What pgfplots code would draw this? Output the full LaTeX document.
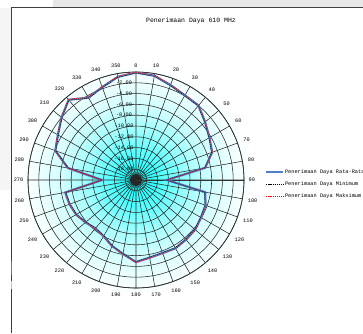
\documentclass[border=0pt]{standalone}
\usepackage{fontspec}
\setmainfont{Liberation Mono}
\usepackage{pgfplots}
\pgfplotsset{compat=1.18}
\usepackage{pgfplotstable}
\usepgfplotslibrary{polar}
\usetikzlibrary{backgrounds}

\definecolor{avgblue}{HTML}{4F7FC4}
\pgfdeclareradialshading{fade}{\pgfpoint{0bp}{0bp}}{%
  color(0bp)=(cyan);
  color(3.1bp)=(cyan!80!white);
  color(6.25bp)=(cyan!62!white);
  color(10.4bp)=(cyan!38!white);
  color(15.6bp)=(cyan!18!white);
  color(20.8bp)=(cyan!6!white);
  color(24bp)=(white);
  color(50bp)=(white)}

% received power at 610 MHz (dB relative to peak), bearing in degrees clockwise from north
\pgfplotstableread{
ang   avg    lo     hi
0     -0.1   -0.2   -0.0
10    -0.4   -0.5   -0.3
20    -1.3   -1.4   -1.2
30    -1.9   -2.0   -1.8
40    -2.0   -2.1   -1.9
50    -3.3   -3.4   -3.2
60    -4.3   -4.4   -4.2
70    -5.0   -5.1   -4.9
80    -7.0   -7.1   -6.9
90    -14.3  -14.4  -14.2
100   -7.0   -7.1   -6.9
110   -6.3   -6.4   -6.2
120   -6.1   -6.2   -6.0
130   -5.7   -5.8   -5.6
140   -5.6   -5.7   -5.5
150   -5.4   -5.5   -5.3
160   -5.6   -5.7   -5.5
170   -5.4   -5.5   -5.3
180   -4.8   -4.9   -4.7
190   -6.1   -6.2   -6.0
200   -7.0   -7.1   -6.9
210   -8.0   -8.1   -7.9
220   -8.3   -8.4   -8.2
230   -7.8   -7.9   -7.7
240   -7.2   -7.3   -7.1
250   -6.9   -7.0   -6.8
260   -6.7   -6.8   -6.6
270   -13.7  -13.8  -13.6
280   -7.2   -7.3   -7.1
290   -4.1   -4.2   -4.0
300   -3.3   -3.4   -3.2
310   -2.0   -2.1   -1.9
320   -0.6   -0.7   -0.5
330   -2.4   -2.5   -2.3
340   -1.7   -1.8   -1.6
350   -0.6   -0.7   -0.5
360   -0.1   -0.2   -0.0
}\rxdata

\newcommand\lbl{\fontsize{5.3}{6}\selectfont}

\begin{document}
\begin{tikzpicture}[x=1pt,y=1pt]
\useasboundingbox (0,0) rectangle (363,333);
% sheet chrome around the chart area
\fill[black!9] (53,325) rectangle (363,333);
\fill[black!4] (0,143) rectangle (11,325);
\draw[black!75, line width=0.8pt] (11.5,0) -- (11.5,325.5) -- (363,325.5);
\fill[avgblue] (10.6,58) rectangle (11.4,72);
\fill[yellow!80!green] (10.6,44) rectangle (11.4,52);
\fill[red!80!black] (10.6,22) rectangle (11.4,34);

\node[font=\fontsize{6.5}{7}\selectfont] at (191,312) {Penerimaan Daya 610 MHz};

\begin{polaraxis}[
  at={(136pt,153pt)}, anchor=origin,
  scale only axis, width=216pt, height=216pt,
  xmin=0, xmax=360, ymin=0, ymax=20,
  xtick={0,10,...,350},
  xticklabels={90,80,70,60,50,40,30,20,10,0,350,340,330,320,310,300,290,280,
               270,260,250,240,230,220,210,200,190,180,170,160,150,140,130,120,110,100},
  ytick={0,2,...,20},
  yticklabels={},
  grid=major,
  major grid style={black!85, line width=0.55pt},
  axis line style={black!80, line width=0.7pt},
  major tick length=0pt,
  xticklabel style={font=\lbl, inner sep=4.5pt},
  legend style={at={(1.097,0.481)}, anchor=west, draw=none, fill=none,
                font=\lbl, inner sep=0pt, row sep=5.5pt,
                nodes={inner sep=0.6pt}},
  legend cell align=left,
]
\addplot[avgblue, line width=2.2pt, no markers]
  table[x expr={90-\thisrow{ang}}, y expr={\thisrow{avg}+20}] {\rxdata};
\addlegendentry{Penerimaan Daya Rata-Rata}
\addplot[black, line width=0.4pt, dash pattern=on 1.2pt off 0.9pt, no markers]
  table[x expr={90-\thisrow{ang}}, y expr={\thisrow{lo}+20}] {\rxdata};
\addlegendentry{Penerimaan Daya Minimum}
\addplot[red, line width=0.5pt, dash pattern=on 1.2pt off 0.9pt, no markers]
  table[x expr={90-\thisrow{ang}}, y expr={\thisrow{hi}+20}] {\rxdata};
\addlegendentry{Penerimaan Daya Maksimum}

% radial scale along the north spoke
\node[font=\lbl] at (axis cs:90,20) [xshift=-12pt] {0.00};
\node[font=\lbl] at (axis cs:90,18) [xshift=-12pt] {-2.00};
\node[font=\lbl] at (axis cs:90,16) [xshift=-12pt] {-4.00};
\node[font=\lbl] at (axis cs:90,14) [xshift=-12pt] {-6.00};
\node[font=\lbl] at (axis cs:90,12) [xshift=-12pt] {-8.00};
\node[font=\lbl] at (axis cs:90,10) [xshift=-12pt] {-10.00};
\node[font=\lbl] at (axis cs:90,8) [xshift=-12pt] {-12.00};
\node[font=\lbl] at (axis cs:90,6) [xshift=-12pt] {-14.00};
\node[font=\lbl] at (axis cs:90,4) [xshift=-12pt] {-16.00};
\node[font=\lbl] at (axis cs:90,2) [xshift=-12pt] {-18.00};
\end{polaraxis}

\begin{scope}[on background layer]
\fill[shading=fade] (16,33) rectangle (256,273);
\end{scope}
\end{tikzpicture}
\end{document}
